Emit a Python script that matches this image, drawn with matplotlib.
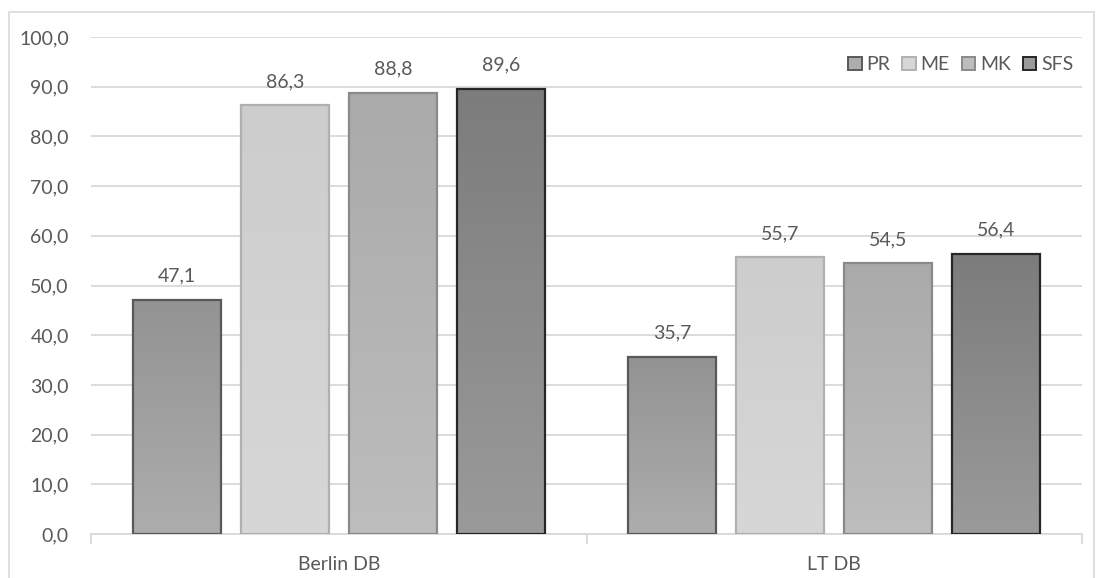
import numpy as np
import matplotlib.pyplot as plt
from matplotlib.colors import LinearSegmentedColormap
from matplotlib.patches import Rectangle

categories = ['Berlin DB', 'LT DB']
series = ['PR', 'ME', 'MK', 'SFS']
pr = [47.1, 35.7]
me = [86.3, 55.7]
mk = [88.8, 54.5]
sfs = [89.6, 56.4]
values = [pr, me, mk, sfs]

# (top colour, bottom colour, edge colour) for each series
styles = [('#adadad', '#939393', '#595959'),
          ('#d7d7d7', '#cdcdcd', '#b0b0b0'),
          ('#bdbdbd', '#aaaaaa', '#8a8a8a'),
          ('#9a9a9a', '#7c7c7c', '#262626')]

plt.rcParams['font.family'] = ['Lato', 'DejaVu Sans']
txt = '#595959'
fs = 14

fig = plt.figure(figsize=(10.97, 5.78), dpi=100)
W, H = 1097, 578
ax = fig.add_axes([91 / W, 1 - 534 / H, (1082 - 91) / W, (534 - 37) / H])

# outer chart border
fig.patches.append(Rectangle((9 / W, -0.05), (1094 - 9) / W, 1.05 - 12 / H,
                             transform=fig.transFigure, fill=False,
                             edgecolor='#d9d9d9', linewidth=1.2))

x = np.arange(len(categories))
step = 0.218
width = 0.178
grad = np.linspace(0, 1, 100).reshape(-1, 1)

for i, (name, vals, st) in enumerate(zip(series, values, styles)):
    pos = x + (i - 1.5) * step
    bars = ax.bar(pos, vals, width, facecolor='none', edgecolor=st[2],
                  linewidth=1.6, zorder=3)
    cmap = LinearSegmentedColormap.from_list(name, [st[0], st[1]])
    for b in bars:
        bx, bw, bh = b.get_x(), b.get_width(), b.get_height()
        ax.imshow(grad, extent=[bx, bx + bw, bh, 0], origin='upper',
                  cmap=cmap, aspect='auto', zorder=2)
    for px, v in zip(pos, vals):
        ax.annotate(f'{v:.1f}'.replace('.', ','), (px, v), xytext=(0, 13),
                    textcoords='offset points', ha='center', va='baseline',
                    fontsize=fs, color=txt)

handles = [Rectangle((0, 0), 1, 1, facecolor=s[0], edgecolor=s[2], linewidth=1.4)
           for s in styles]
ax.legend(handles, series, loc='upper right', bbox_to_anchor=(1.003, 0.985),
          ncol=4, frameon=False, fontsize=fs, labelcolor=txt,
          handlelength=0.7, handleheight=0.7, handletextpad=0.25,
          columnspacing=0.6, borderaxespad=0.2)

ax.set_xlim(-0.5, 1.5)
ax.set_ylim(0, 100)
ax.set_yticks(np.arange(0, 101, 10))
ax.set_yticklabels([f'{t:.1f}'.replace('.', ',') for t in np.arange(0, 101, 10)])
ax.yaxis.grid(True, color='#d9d9d9', linewidth=1.3)
ax.set_axisbelow(True)

ax.set_xticks(x)
ax.set_xticklabels(categories)
ax.set_xticks([-0.5, 0.5, 1.5], minor=True)
ax.tick_params(axis='x', which='major', length=0, pad=16, labelsize=fs, labelcolor=txt)
ax.tick_params(axis='x', which='minor', length=7, color='#d9d9d9', width=1.3)
ax.tick_params(axis='y', length=0, pad=16, labelsize=fs, labelcolor=txt)

for s in ['top', 'right', 'left']:
    ax.spines[s].set_visible(False)
ax.spines['bottom'].set_color('#d9d9d9')
ax.spines['bottom'].set_linewidth(1.3)

fig.savefig('out.png', dpi=100)
